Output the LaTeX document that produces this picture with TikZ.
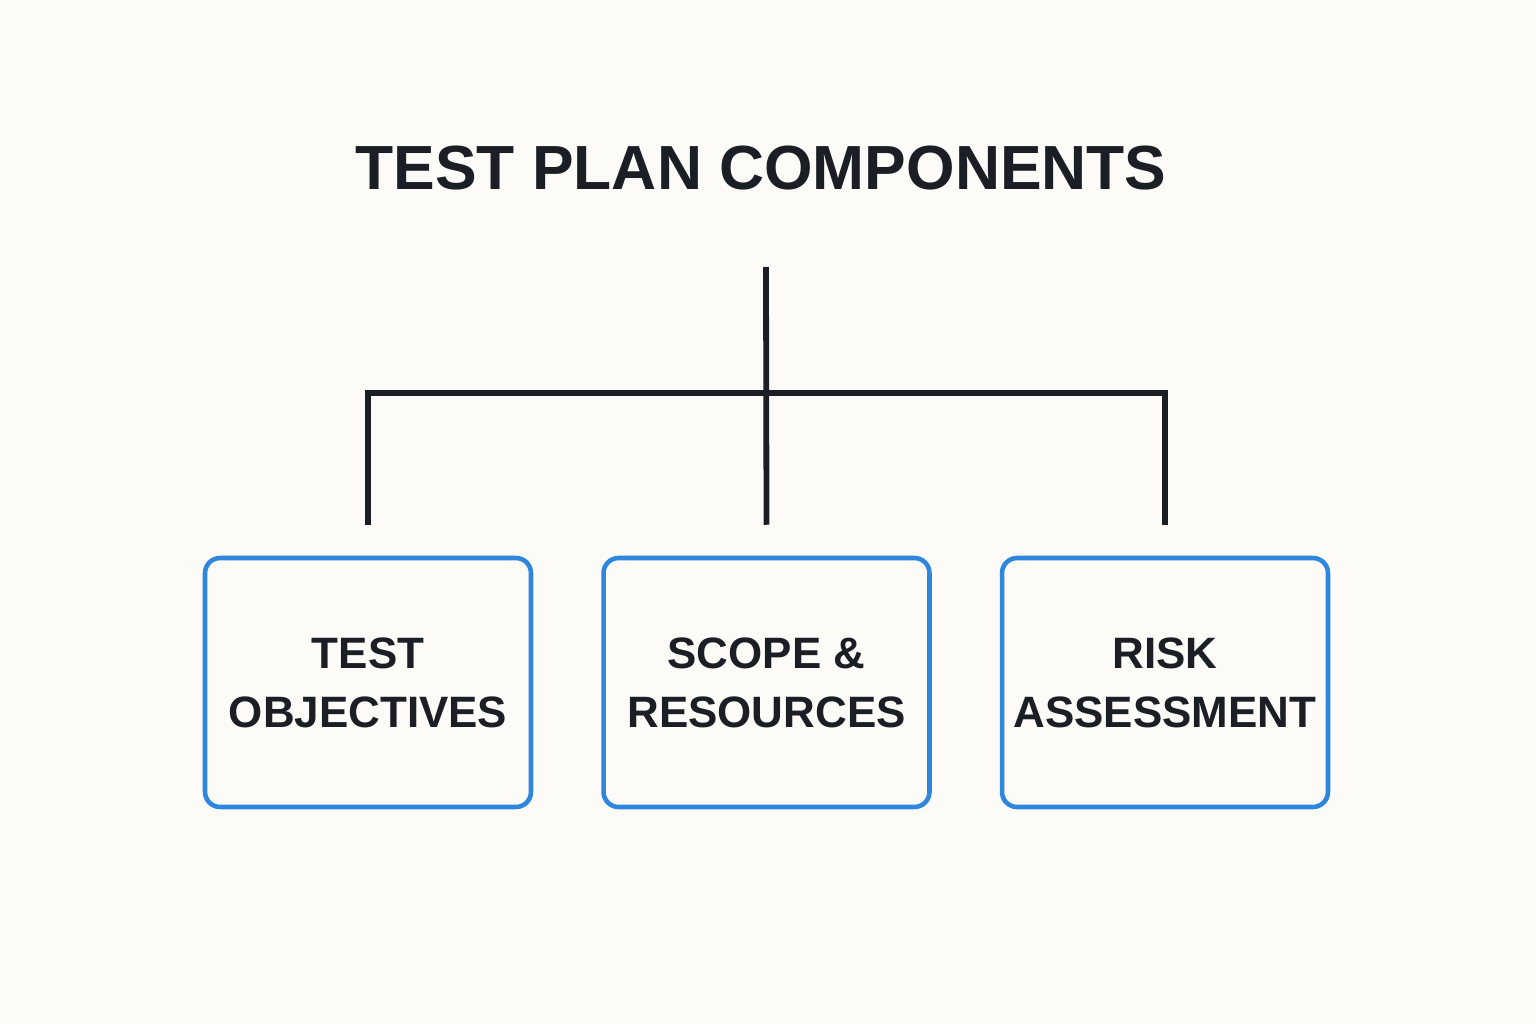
\documentclass[tikz,border=0pt]{standalone}
\usepackage{fontspec}
\setmainfont{Liberation Sans}
\definecolor{bgc}{HTML}{FCFBF8}
\definecolor{ink}{HTML}{1B1E24}
\definecolor{boxblue}{HTML}{2F86DD}
\begin{document}
\begin{tikzpicture}[x=0.02cm,y=-0.02cm,
  comp/.style={draw=boxblue, line width=2.6pt, rounded corners=0.3cm, fill=bgc,
    minimum width=6.52cm, minimum height=4.98cm, align=center, text=ink,
    font=\fontsize{25}{33.5}\selectfont\bfseries, inner sep=0pt},
  conn/.style={draw=ink, line width=3.3pt, line join=miter}]
\fill[bgc] (0,0) rectangle (1536,1024);
\useasboundingbox (0,0) rectangle (1536,1024);
\node[text=ink, font=\fontsize{35.5}{40}\selectfont\bfseries] (title) at (761,168) {TEST PLAN COMPONENTS};
\node[comp] (b1) at (368,682.5) {TEST\\OBJECTIVES};
\node[comp] (b2) at (766.5,682.5) {SCOPE \&\\RESOURCES};
\node[comp] (b3) at (1165,682.5) {RISK\\ASSESSMENT};
\coordinate (top) at (766,267);
\coordinate (j) at (766,393);
\draw[conn] ([yshift=0.62cm]b1.north) |- (j) -| ([yshift=0.62cm]b3.north);
\draw[conn] (top) -- ([yshift=0.62cm]b2.north);
\end{tikzpicture}
\end{document}
